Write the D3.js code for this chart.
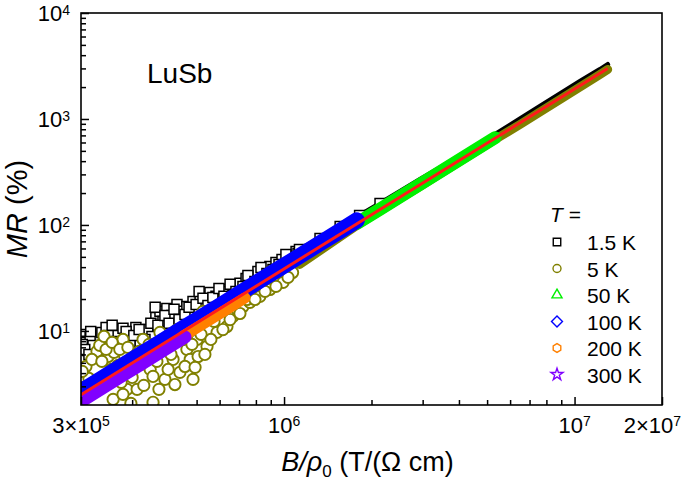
<!DOCTYPE html>
<html><head><meta charset="utf-8">
<script src="https://cdn.jsdelivr.net/npm/d3@7/dist/d3.min.js"></script>
<style>
body{margin:0;background:#fff}
text{font-family:Arial,"Liberation Sans",sans-serif;fill:#000}
</style>
</head><body>
<svg id="chart" width="685" height="482"></svg>
<script>
// ---------------- DATA ----------------
// 1.5 K, scattered low-field squares
const k15X = [2.05e5,2.08e5,2.11e5,2.15e5,2.20e5,2.36e5,2.44e5,2.52e5,2.60e5,2.66e5,2.79e5,2.88e5,2.97e5,3.09e5,3.19e5,3.27e5,3.40e5,3.51e5,3.62e5,3.74e5,3.83e5,3.95e5,4.11e5,4.28e5,4.45e5,4.63e5,4.86e5,5.14e5,5.34e5,5.56e5,5.83e5,6.11e5,6.41e5,6.67e5,7.05e5,7.40e5,7.75e5,8.13e5,8.53e5,8.94e5,9.38e5,9.84e5,1.048e6,1.10e6,
  2.02e5,2.06e5,2.16e5,2.13e5,2.48e5,2.56e5,2.64e5,2.86e5,2.95e5,3.04e5,3.17e5,3.32e5,3.48e5,3.60e5,3.68e5,3.89e5,4.02e5,4.18e5,4.35e5,4.56e5,4.71e5,4.98e5,5.10e5,5.26e5,5.47e5,5.69e5,5.97e5,6.21e5,6.52e5,6.83e5,7.22e5,7.51e5,7.94e5,8.33e5,8.73e5,9.16e5,9.61e5,1.015e6,1.073e6,1.117e6];
const k15Y = [9.27,7.79,6.55,8.69,7.30,9.68,10.8,8.31,10.3,9.07,10.6,8.31,9.68,10.8,7.46,9.47,10.3,8.87,13.4,15.3,12.3,16.3,14.0,17.8,15.3,17.0,19.0,21.2,18.6,23.1,21.2,24.6,23.6,26.9,28.1,31.3,32.7,36.4,36.4,40.6,44.3,47.3,50.4,56.2,
  7.46,6.69,9.89,6.00,9.07,11.3,7.96,9.89,7.96,9.07,10.3,8.31,11.8,16.7,11.3,14.0,11.8,16.0,12.8,14.3,16.7,17.8,23.6,20.3,17.4,20.7,25.2,21.2,27.5,23.6,26.3,33.4,29.3,39.7,34.9,38.0,42.4,52.7,45.3,53.8];
// 1.5 K, dense high-field part
const k15BandX = [1.13e6,1.33e6,1.56e6,1.82e6,2.14e6,2.51e6,2.94e6,3.44e6,4.03e6,4.72e6,5.54e6,6.49e6,7.60e6,8.91e6,1.044e7,1.223e7,1.30e7];
const k15BandY = [58.7,74.6,96.8,123,159.5,207,269,345,448,581,762,1000,1312,1722,2259,2931,3266];
// 5 K, scattered low-field circles
const k5X = [2.05e5,2.08e5,2.13e5,2.27e5,2.32e5,2.40e5,2.48e5,2.54e5,2.60e5,2.66e5,2.68e5,2.79e5,2.83e5,2.88e5,2.95e5,3.04e5,3.12e5,3.27e5,3.37e5,3.46e5,3.54e5,3.54e5,3.65e5,3.74e5,3.77e5,3.89e5,4.05e5,4.15e5,4.28e5,4.38e5,4.63e5,4.75e5,4.86e5,5.02e5,5.06e5,5.26e5,5.43e5,5.88e5,6.02e5,6.36e5,6.67e5,6.89e5,7.22e5,7.63e5,8.26e5,8.94e5,9.92e5,1.07e6,2.58e5,2.79e5,2.97e5,
  2.02e5,2.05e5,2.18e5,2.24e5,2.36e5,2.44e5,2.56e5,2.62e5,2.72e5,2.75e5,2.90e5,3.00e5,3.17e5,3.22e5,3.29e5,3.43e5,3.60e5,3.71e5,3.83e5,3.99e5,4.08e5,4.21e5,4.52e5,4.56e5,4.82e5,4.94e5,5.18e5,5.34e5,5.60e5,5.74e5,6.16e5,6.52e5,7.05e5,7.45e5,7.94e5,8.60e5,9.38e5,1.032e6];
const k5Y = [2.93,4.62,3.56,6.41,7.30,8.87,5.74,4.33,6.27,7.62,4.73,8.31,5.74,2.81,4.33,5.16,2.81,8.31,6.27,4.33,3.72,2.12,5.16,9.68,7.14,3.49,7.14,5.38,10.3,4.06,6.69,5.38,3.49,8.31,5.74,15.3,7.14,9.68,12.8,11.0,13.7,16.0,17.0,18.6,21.2,24.6,28.7,35.6,2.26,2.52,2.07,
  4.15,2.41,5.38,3.13,5.16,6.69,7.79,3.49,6.69,3.27,6.99,3.64,6.41,4.83,3.06,7.46,6.00,2.81,8.31,4.33,6.00,3.12,8.31,4.62,7.46,4.53,9.27,6.00,8.31,12.3,10.3,12.8,14.6,19.8,19.8,23.6,26.3,32.0];
// 5 K, dense high-field part
const k5BandX = [1.13e6,1.33e6,1.56e6,1.82e6,2.14e6,2.51e6,2.94e6,3.44e6,4.03e6,4.72e6,5.54e6,6.49e6,7.60e6,8.91e6,1.044e7,1.223e7,1.30e7];
const k5BandY = [42.4,57.5,77.2,103,135.5,178,231,303,397,521,684,887,1164,1527,2004,2630,2930];
// 50 K
const k50X = [1.78e6,2.14e6,2.94e6,4.03e6,5.32e6];
const k50Y = [103.5,141,242,415,665];
// 100 K
const k100X = [2.0e5,2.32e5,2.72e5,3.19e5,3.74e5,4.38e5,5.14e5,6.02e5,7.05e5,8.26e5,9.68e5,1.135e6,1.33e6,1.56e6,1.78e6];
const k100Y = [2.69,3.46,4.54,5.94,7.78,10.2,13.3,17.4,22.8,29.9,39.1,51.2,67.1,88.0,110.5];
// 200 K
const k200X = [4.49e5,5.14e5,6.02e5,7.34e5];
const k200Y = [8.91,11.2,14.6,20.5];
// 300 K
const k300X = [2.0e5,2.32e5,2.72e5,3.19e5,3.74e5,4.56e5];
const k300Y = [2.16,2.79,3.65,4.78,6.25,8.76];
// Kohler fit line
const fitX = [2.0e5,1.3e7];
const fitY = [2.5,3000];
// axes
const xDomain = [2e5,2e7];
const yDomain = [2,1e4];
const xMajor = [2e5,1e6,1e7,2e7];
const xMajorLabels = [["3×10","5"],["10","6"],["10","7"],["2×10","7"]];
const xMinor = [3e5,4e5,5e5,6e5,7e5,8e5,9e5,2e6,3e6,4e6,5e6,6e6,7e6,8e6,9e6];
const yMajor = [1e1,1e2,1e3,1e4];
const yMajorLabels = [["10","1"],["10","2"],["10","3"],["10","4"]];
const yMinor = [3,4,5,6,7,8,9,20,30,40,50,60,70,80,90,200,300,400,500,600,700,800,900,2000,3000,4000,5000,6000,7000,8000,9000];
const legendLabels = ["1.5 K","5 K","50 K","100 K","200 K","300 K"];
const sampleName = "LuSb";

// ---------------- DRAW ----------------
const L = 81, R = 662, T = 13, B = 405;
const svg = d3.select("#chart");
const x = d3.scaleLog().domain(xDomain).range([L, R]);
const y = d3.scaleLog().domain(yDomain).range([B, T]);

svg.append("defs").append("clipPath").attr("id","clip")
  .append("rect").attr("x",L).attr("y",T).attr("width",R-L).attr("height",B-T);
const plot = svg.append("g").attr("clip-path","url(#clip)");

const hexagon = { draw(ctx, size){ const r = Math.sqrt(size/(1.5*Math.sqrt(3)));
  for(let i=0;i<6;i++){ const a=Math.PI/3*i+Math.PI/6; const px=r*Math.cos(a), py=r*Math.sin(a); i?ctx.lineTo(px,py):ctx.moveTo(px,py);} ctx.closePath(); } };
const diamond = { draw(ctx, size){ const r = Math.sqrt(size/2); ctx.moveTo(0,-r); ctx.lineTo(r,0); ctx.lineTo(0,r); ctx.lineTo(-r,0); ctx.closePath(); } };

const series = [
  {label:legendLabels[0], color:"#000000", sym:d3.symbolSquare, size:100, legSize:56},
  {label:legendLabels[1], color:"#808000", sym:d3.symbolCircle, size:100, legSize:50},
  {label:legendLabels[2], color:"#00f000", sym:d3.symbolTriangle, size:70, legSize:44},
  {label:legendLabels[3], color:"#0000ff", sym:diamond, size:80, legSize:60},
  {label:legendLabels[4], color:"#ff8000", sym:hexagon, size:70, legSize:50},
  {label:legendLabels[5], color:"#8000ff", sym:d3.symbolStar, size:60, legSize:45}
];

const zip = (xs, ys) => xs.map((v,i)=>[v, ys[i]]);
const line = d3.line().x(d=>x(d[0])).y(d=>y(d[1]));

function scatter(data, s, fill, sw){
  plot.append("g").selectAll("path").data(data).join("path")
    .attr("transform", d=>`translate(${x(d[0])},${y(d[1])})`)
    .attr("d", d3.symbol().type(s.sym).size(s.size))
    .attr("fill", fill).attr("stroke", s.color).attr("stroke-width", sw);
}
function band(data, s, width){
  plot.append("path").datum(data).attr("d", line)
    .attr("fill","none").attr("stroke", s.color).attr("stroke-width", width)
    .attr("stroke-linecap","round").attr("stroke-linejoin","round");
}

// 1.5 K and 5 K
scatter(zip(k15X,k15Y), series[0], "#fff", 1.5);
scatter(zip(k5X,k5Y), series[1], "#fff", 1.9);
band(zip(k15BandX,k15BandY), series[0], 5);
scatter(zip(k15BandX,k15BandY).slice(0,5), series[0], "#fff", 1.5);
band(zip(k5BandX,k5BandY), series[1], 9);
// 50 K
band(zip(k50X,k50Y), series[2], 13);
// 100 K
band(zip(k100X,k100Y), series[3], 16);
// 200 K
band(zip(k200X,k200Y), series[4], 11);
// 300 K
band(zip(k300X,k300Y), series[5], 13);
// fit
plot.append("path").datum(zip(fitX,fitY)).attr("d", line)
  .attr("fill","none").attr("stroke","#ff1a1a").attr("stroke-width",3);

// axes
function axisTicks(gen, vals, size, tr){
  const g = svg.append("g").attr("transform", tr)
    .call(gen.tickValues(vals).tickSize(size).tickSizeOuter(0).tickFormat(""));
  g.select(".domain").remove();
  g.selectAll(".tick line").attr("stroke","#000").attr("stroke-width",1.5);
}
axisTicks(d3.axisBottom(x), xMinor, -5, `translate(0,${B})`);
axisTicks(d3.axisBottom(x), xMajor, -8, `translate(0,${B})`);
axisTicks(d3.axisLeft(y), yMinor, -5, `translate(${L},0)`);
axisTicks(d3.axisLeft(y), yMajor, -8, `translate(${L},0)`);

svg.append("rect").attr("x",L).attr("y",T).attr("width",R-L).attr("height",B-T)
  .attr("fill","none").attr("stroke","#000").attr("stroke-width",1.6);

// tick labels
xMajor.forEach((v,i)=>{
  const last = i===xMajor.length-1;
  const t = svg.append("text").attr("x", last ? x(v)+19 : x(v)).attr("y", B+28)
    .attr("text-anchor", last ? "end" : "middle").attr("font-size",22);
  t.append("tspan").text(xMajorLabels[i][0]);
  t.append("tspan").attr("dy",-7).attr("font-size",14).text(xMajorLabels[i][1]);
});
yMajor.forEach((v,i)=>{
  const t = svg.append("text").attr("x", L-11).attr("y", y(v)+8)
    .attr("text-anchor","end").attr("font-size",22);
  t.append("tspan").text(yMajorLabels[i][0]);
  t.append("tspan").attr("dy",-6).attr("font-size",14).text(yMajorLabels[i][1]);
});

// axis titles
const xt = svg.append("text").attr("x",(L+R)/2-4).attr("y",471).attr("text-anchor","middle").attr("font-size",27);
xt.append("tspan").attr("font-style","italic").text("B/ρ");
xt.append("tspan").attr("font-size",17).attr("dy",6).text("0");
xt.append("tspan").attr("dy",-6).text(" (T/(Ω cm)");

const yt = svg.append("text").attr("transform",`translate(27,${(T+B)/2}) rotate(-90)`)
  .attr("text-anchor","middle").attr("font-size",29);
yt.append("tspan").attr("font-style","italic").text("MR");
yt.append("tspan").text(" (%)");

svg.append("text").attr("x",147).attr("y",83).attr("font-size",28).text(sampleName);

// legend
const lg = svg.append("g");
const lt = lg.append("text").attr("x",550).attr("y",222).attr("font-size",21);
lt.append("tspan").attr("font-style","italic").text("T");
lt.append("tspan").text(" =");
series.forEach((s,i)=>{
  const by = 250 + i*26.5;
  lg.append("path").attr("transform",`translate(557,${by-8})`)
    .attr("d", d3.symbol().type(s.sym).size(s.legSize))
    .attr("fill","#fff").attr("stroke", s.color).attr("stroke-width",1.4);
  lg.append("text").attr("x",587).attr("y",by).attr("font-size",21).text(s.label);
});
</script>
</body></html>
